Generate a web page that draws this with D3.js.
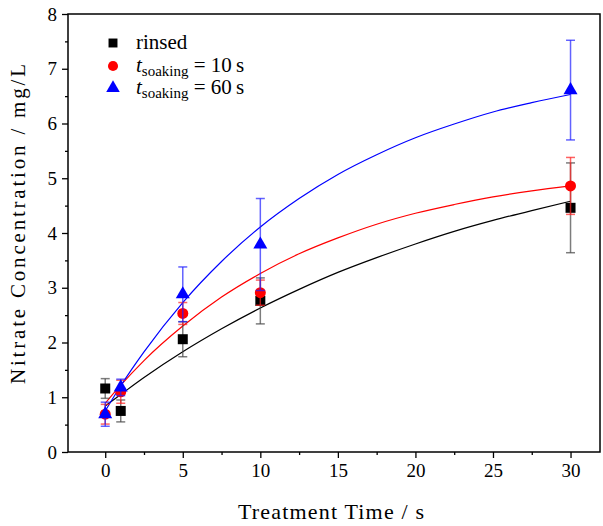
<!DOCTYPE html>
<html>
<head>
<meta charset="utf-8">
<script src="https://cdn.jsdelivr.net/npm/d3@7"></script>
<style>
  body { margin: 0; background: #fff; }
  svg text, svg tspan { font-family: "Liberation Serif", "DejaVu Serif", serif; fill: #000; }
</style>
</head>
<body>
<div id="chart"></div>
<script>
// measured points (treatment time in s, nitrate in mg/L)
var times = [0, 1, 5, 10, 30];
var rinsed = [1.16, 0.75, 2.06, 2.76, 4.46];
var rinsedErr = [0.18, 0.20, 0.32, 0.42, 0.82];
var soak10 = [0.69, 1.10, 2.53, 2.91, 4.86];
var soak10Err = [0.18, 0.21, 0.20, 0.23, 0.52];
var soak60 = [0.69, 1.18, 2.88, 3.79, 6.61];
var soak60Err = [0.22, 0.15, 0.50, 0.84, 0.91];

// fitted curves
var fitTimes = [0, 1, 2.5, 5, 7.5, 10, 12.5, 15, 17.5, 20, 22.5, 25, 27.5, 30];
var rinsedFit = [0.84, 1.05, 1.36, 1.83, 2.25, 2.63, 2.97, 3.28, 3.55, 3.80, 4.03, 4.23, 4.41, 4.58];
var soak10Fit = [0.89, 1.22, 1.67, 2.30, 2.83, 3.26, 3.62, 3.91, 4.16, 4.36, 4.52, 4.66, 4.77, 4.86];
var soak60Fit = [0.75, 1.21, 1.83, 2.73, 3.48, 4.11, 4.63, 5.07, 5.43, 5.74, 5.99, 6.21, 6.38, 6.53];

var xTicks = [0, 5, 10, 15, 20, 25, 30];
var xMinor = [2.5, 7.5, 12.5, 17.5, 22.5, 27.5];
var yTicks = [0, 1, 2, 3, 4, 5, 6, 7, 8];
var yMinor = [0.5, 1.5, 2.5, 3.5, 4.5, 5.5, 6.5, 7.5];

var serif = '"Liberation Serif", "DejaVu Serif", serif';

function drawChart() {
    var width = 603, height = 526;
    var mLeft = 68, mRight = 600, mTop = 14, mBottom = 452;

    var svg = d3.select("#chart").append("svg")
        .attr("width", width)
        .attr("height", height);

    var x = d3.scaleLinear().domain([-2.4, 31.9]).range([mLeft, mRight]);
    var y = d3.scaleLinear().domain([0, 8]).range([mBottom, mTop]);

    var series = [
        { name: "rinsed", vals: rinsed, err: rinsedErr, fit: rinsedFit, color: "#000000", errColor: "#444444", shape: d3.symbolSquare, size: 100 },
        { name: "10", vals: soak10, err: soak10Err, fit: soak10Fit, color: "#ff0000", errColor: "#ff2020", shape: d3.symbolCircle, size: 95 },
        { name: "60", vals: soak60, err: soak60Err, fit: soak60Fit, color: "#0000ff", errColor: "#2020ff", shape: d3.symbolTriangle, size: 85 }
    ];

    // axes
    var xAxis = d3.axisBottom(x).tickValues(xTicks).tickSize(6).tickPadding(6).tickFormat(d3.format("d"));
    var xAxisMinor = d3.axisBottom(x).tickValues(xMinor).tickSize(3).tickFormat("");
    var yAxis = d3.axisLeft(y).tickValues(yTicks).tickSize(6).tickPadding(5).tickFormat(d3.format("d"));
    var yAxisMinor = d3.axisLeft(y).tickValues(yMinor).tickSize(3).tickFormat("");

    function styleAxis(g) {
        g.attr("font-family", null);
        g.select(".domain").remove();
        g.selectAll("line").attr("stroke", "#000").attr("stroke-width", 1.3);
        g.selectAll("text").style("font-family", serif).style("font-size", "19px");
    }

    svg.append("g").attr("transform", "translate(0," + mBottom + ")").call(xAxis).call(styleAxis);
    svg.append("g").attr("transform", "translate(0," + mBottom + ")").call(xAxisMinor).call(styleAxis);
    svg.append("g").attr("transform", "translate(" + mLeft + ",0)").call(yAxis).call(styleAxis);
    svg.append("g").attr("transform", "translate(" + mLeft + ",0)").call(yAxisMinor).call(styleAxis);

    // fit lines
    var line = d3.line()
        .x(function (d) { return x(d[0]); })
        .y(function (d) { return y(d[1]); })
        .curve(d3.curveMonotoneX);

    series.forEach(function (s) {
        svg.append("path")
            .datum(fitTimes.map(function (t, i) { return [t, s.fit[i]]; }))
            .attr("fill", "none")
            .attr("stroke", s.color)
            .attr("stroke-width", 1.2)
            .attr("d", line);
    });

    // error bars and markers
    series.forEach(function (s) {
        var g = svg.append("g");
        var pts = times.map(function (t, i) { return { t: t, v: s.vals[i], e: s.err[i] }; });
        var eb = g.selectAll("g.eb").data(pts).enter().append("g")
            .attr("stroke", s.errColor)
            .attr("stroke-opacity", 0.7)
            .attr("stroke-width", 1.5);
        eb.append("line")
            .attr("x1", function (d) { return x(d.t); })
            .attr("x2", function (d) { return x(d.t); })
            .attr("y1", function (d) { return y(d.v - d.e); })
            .attr("y2", function (d) { return y(d.v + d.e); });
        [-1, 1].forEach(function (sign) {
            eb.append("line")
                .attr("x1", function (d) { return x(d.t) - 4.5; })
                .attr("x2", function (d) { return x(d.t) + 4.5; })
                .attr("y1", function (d) { return y(d.v + sign * d.e); })
                .attr("y2", function (d) { return y(d.v + sign * d.e); });
        });
        g.selectAll("path.m").data(pts).enter().append("path")
            .attr("transform", function (d) { return "translate(" + x(d.t) + "," + y(d.v) + ")"; })
            .attr("d", d3.symbol().type(s.shape).size(s.size))
            .attr("fill", s.color);
    });

    // frame
    svg.append("rect")
        .attr("x", mLeft).attr("y", mTop)
        .attr("width", mRight - mLeft).attr("height", mBottom - mTop)
        .attr("fill", "none").attr("stroke", "#000").attr("stroke-width", 1.5);

    // legend
    var legend = svg.append("g").attr("transform", "translate(113,0)");
    var rowsY = [43, 66, 88];
    series.forEach(function (s, i) {
        legend.append("path")
            .attr("transform", "translate(0," + rowsY[i] + ")")
            .attr("d", d3.symbol().type(s.shape).size(80))
            .attr("fill", s.color);
        var t = legend.append("text")
            .attr("x", 23)
            .attr("y", rowsY[i] + 6)
            .style("font-family", serif)
            .style("font-size", "21px");
        if (i === 0) {
            t.text("rinsed");
        } else {
            t.append("tspan").style("font-style", "italic").text("t");
            t.append("tspan").attr("dy", 4).style("font-size", "15px").text("soaking");
            t.append("tspan").attr("dy", -4).text(" = " + s.name + "\u2009s");
        }
    });

    // axis titles
    svg.append("text")
        .attr("x", 331)
        .attr("y", 519)
        .attr("text-anchor", "middle")
        .attr("textLength", 186)
        .attr("lengthAdjust", "spacing")
        .style("font-family", serif)
        .style("font-size", "22px")
        .text("Treatment Time / s");

    svg.append("text")
        .attr("transform", "translate(25,224) rotate(-90)")
        .attr("text-anchor", "middle")
        .attr("textLength", 320)
        .attr("lengthAdjust", "spacing")
        .style("font-family", serif)
        .style("font-size", "21px")
        .text("Nitrate Concentration / mg/L");
}

drawChart();
</script>
</body>
</html>
